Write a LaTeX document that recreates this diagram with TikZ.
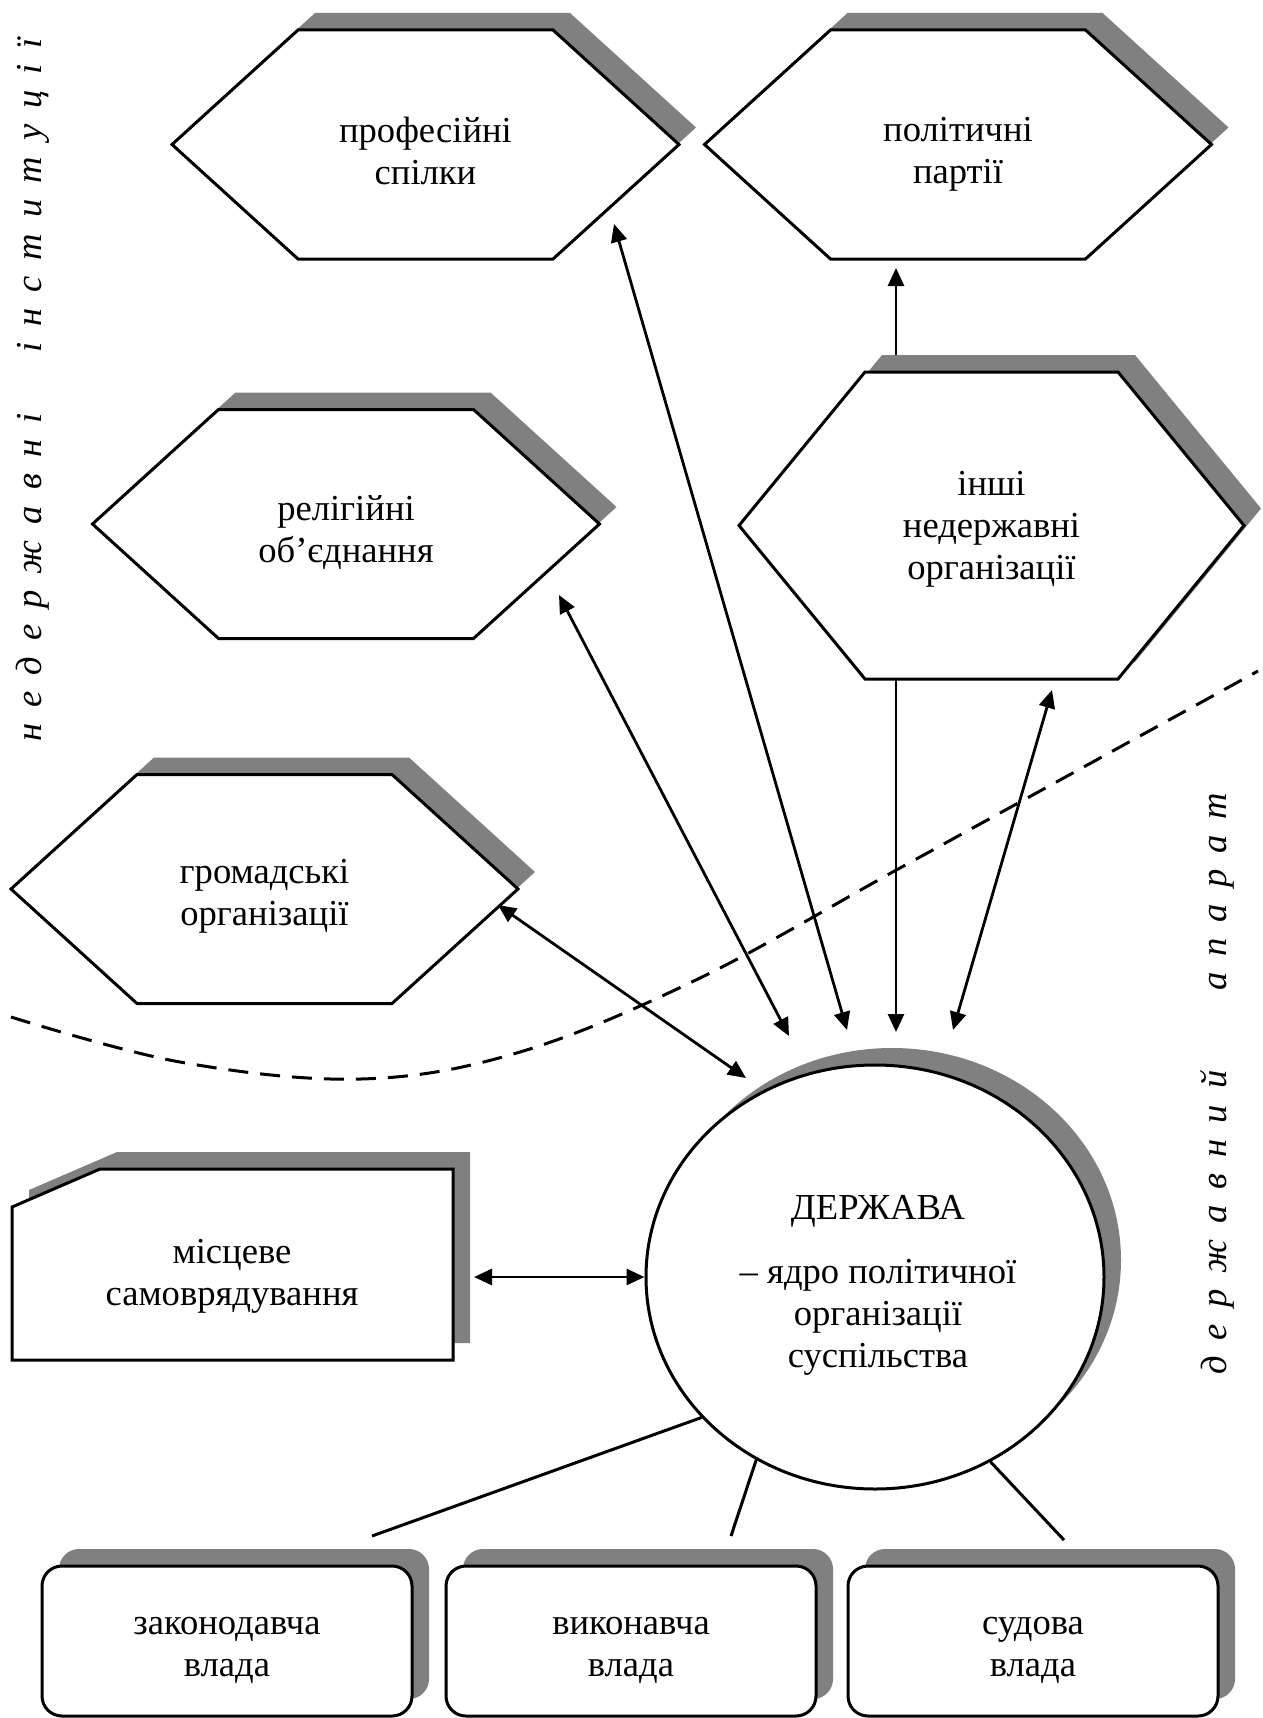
\documentclass[tikz,border=0pt]{standalone}
\usepackage{fontspec}
\setmainfont{Liberation Serif}
\usetikzlibrary{shapes.geometric,shadows,arrows.meta}

% letter spacing for the spaced-out side captions
\newcommand\lsp{\hspace{8pt}}
% hexagon: centre x, centre y, half width, half height, slant
\newcommand\hexpath[5]{%
  ({#1-#3},{#2}) -- ({#1-#3+#5},{#2-#4}) -- ({#1+#3-#5},{#2-#4}) --
  ({#1+#3},{#2}) -- ({#1+#3-#5},{#2+#4}) -- ({#1-#3+#5},{#2+#4}) -- cycle}

\begin{document}
\begin{tikzpicture}[x=0.5pt,y=-0.5pt,
  outline/.style={line width=1.5pt, draw=black, fill=white, line join=miter},
  shad/.style={drop shadow={shadow xshift=8.5pt, shadow yshift=8.5pt, opacity=1, fill=gray}},
  txt/.style={font=\fontsize{18.3pt}{21pt}\selectfont, align=center, inner sep=0pt},
  vtxt/.style={font=\fontsize{18.3pt}{21pt}\selectfont\itshape, inner sep=0pt,
    rotate=90, anchor=base west},
  link/.style={line width=1.4pt},
  tip/.tip={Triangle[length=9pt,width=8pt]},
  twoway/.style={link, tip-tip},
  oneway/.style={link, -tip},
  branch/.style={line width=1.5pt},
  boundary/.style={line width=1.5pt, dash pattern=on 10pt off 6pt},
  power/.style={outline, shad, rectangle, rounded corners=10pt,
    minimum width=185pt, minimum height=75pt}
]
\useasboundingbox (0,0) rectangle (1263,1718);

% non-state institutions (hexagons)
\draw[outline, shad] \hexpath{425.5}{144.5}{253.5}{114.5}{126};
\node[txt] (prof) at (425.5,150.5) {професійні\\спілки};

\draw[outline, shad] \hexpath{958}{144.5}{253.5}{114.5}{126};
\node[txt] (pol) at (958,154.5) {політичні\\партії};

\draw[outline, shad] \hexpath{346}{524}{253.5}{114.5}{126};
\node[txt] (rel) at (346,533) {релігійні\\об’єднання};

\draw[outline, shad] \hexpath{991.5}{525.5}{252.5}{153.5}{126};
\node[txt] (other) at (991.5,529) {інші\\недержавні\\організації};

\draw[outline, shad] \hexpath{264.5}{889}{253.5}{114.5}{126};
\node[txt] (civ) at (264.5,896.5) {громадські\\організації};

% dividing line between the two spheres
\draw[boundary] plot[smooth, tension=0.6] coordinates
  {(11,1017) (180,1062) (361,1079) (520,1052) (700,978) (900,868) (1100,758) (1258,671)};

% the state
\node[ellipse, outline, shad, minimum width=229pt, minimum height=212pt, inner sep=0pt]
  (state) at (875,1277) {};
\node[txt] (statetext) at (878,1285)
  {ДЕРЖАВА\\[11pt]– ядро політичної\\організації\\суспільства};

% local self-government
\draw[outline, shad] (12,1207) -- (100,1169) -- (453,1169) -- (453,1360) -- (12,1360) -- cycle;
\node[txt] (local) at (232,1276.5) {місцеве\\самоврядування};

% branches of power
\node[power] (leg) at (227,1641) {};
\node[txt] (legt) at (227,1650) {законодавча\\влада};
\node[power] (exe) at (631,1641) {};
\node[txt] (exet) at (631,1650) {виконавча\\влада};
\node[power] (jud) at (1033,1641) {};
\node[txt] (judt) at (1033,1650) {судова\\влада};

% connector end points
\coordinate (profA) at (614,224);   \coordinate (profB) at (847,1030);
\coordinate (relA)  at (559,595);   \coordinate (relB)  at (789,1036);
\coordinate (civA)  at (498,905);   \coordinate (civB)  at (746,1078);
\coordinate (othTop) at (896,355);  \coordinate (polBot) at (896,268);
\coordinate (othBot) at (896,679);  \coordinate (othDown) at (896,1032);
\coordinate (othA)  at (1052,690);  \coordinate (othB)  at (953,1030);
\coordinate (localR) at (474,1277);
\coordinate (legTop) at (372,1536);
\coordinate (exeTop) at (731,1536);
\coordinate (judTop) at (1064,1540);

\draw[twoway] (profA) -- (profB);
\draw[twoway] (relA) -- (relB);
\draw[twoway] (civA) -- (civB);
\draw[oneway] (othTop) -- (polBot);
\draw[oneway] (othBot) -- (othDown);
\draw[twoway] (othA) -- (othB);
\draw[twoway] (localR) -- (state.west);

\draw[branch] (state.219.8) -- (legTop);
\draw[branch] (state.237.4) -- (exeTop);
\draw[branch] (state.302.4) -- (judTop);

% side captions
\node[vtxt] (leftw1) at (41,742) {н\lsp е\lsp д\lsp е\lsp р\lsp ж\lsp а\lsp в\lsp н\lsp і};
\node[vtxt] (leftw2) at (41,353) {і\lsp н\lsp с\lsp т\lsp и\lsp т\lsp у\lsp ц\lsp і\lsp ї};
\node[vtxt] (rightw1) at (1226,1375) {д\lsp е\lsp р\lsp ж\lsp а\lsp в\lsp н\lsp и\lsp й};
\node[vtxt] (rightw2) at (1226,991) {а\lsp п\lsp а\lsp р\lsp а\lsp т};
\end{tikzpicture}
\end{document}
